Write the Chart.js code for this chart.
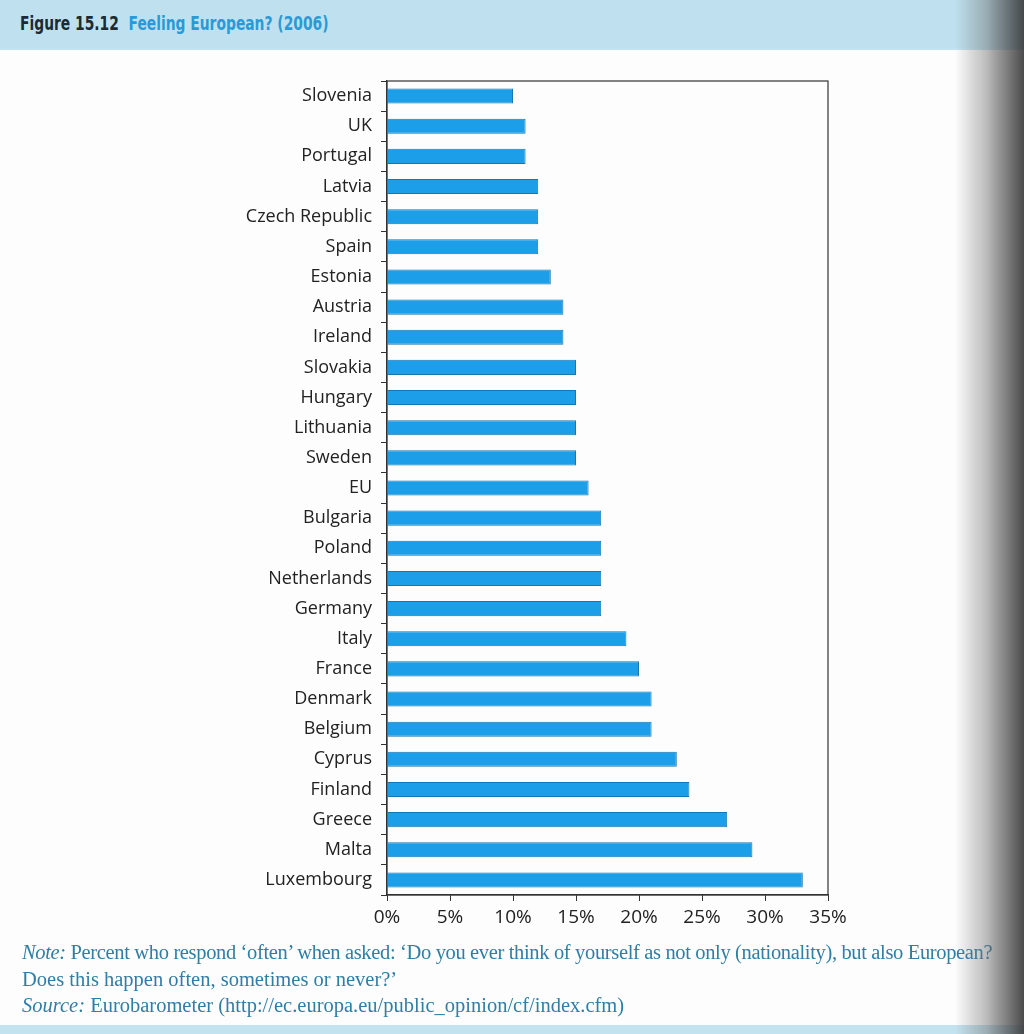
<!DOCTYPE html>
<html>
<head>
<meta charset="utf-8">
<script src="https://cdn.jsdelivr.net/npm/chart.js@4.4.1/dist/chart.umd.min.js"></script>
<style>
  html, body { margin: 0; padding: 0; }
  body { width: 1024px; height: 1034px; position: relative; overflow: hidden; background: #c4e3f0; font-family: "Open Sans", sans-serif; }
  #header { position: absolute; left: 0; top: 0; width: 1024px; height: 48px; background: #bfe1ef; }
  #header div { position: absolute; left: 20px; top: 11px; white-space: nowrap; transform: scaleX(0.77); transform-origin: 0 0;
                font-family: "DejaVu Sans Condensed", sans-serif; font-weight: bold; font-size: 20px; }
  #panel { position: absolute; left: 0; top: 50px; width: 1024px; height: 975px; background: #fdfdfd; }
  #shade { position: absolute; left: 955px; top: 0; width: 69px; height: 1034px;
           background: linear-gradient(to right, rgba(120,120,120,0) 0%, rgba(110,110,110,0.45) 45%, rgba(55,55,55,0.9) 100%); }
  #wrap { position: absolute; left: 0; top: 60px; width: 860px; height: 880px; }
  #notes { position: absolute; left: 22px; top: 939px; font-family: "Liberation Serif", serif; font-size: 20.5px; color: #2f7ea6; line-height: 26.5px; white-space: nowrap; }
  #notes .first { letter-spacing: -0.35px; }
  #notes i { font-style: italic; }
</style>
</head>
<body>
<div id="header">
  <div><span style="color:#1b2a33;">Figure 15.12</span>&nbsp;&nbsp;<span style="color:#2a9ad6;">Feeling European? (2006)</span></div>
</div>
<div id="panel"></div>
<div id="wrap"><canvas id="chart"></canvas></div>
<div id="notes">
  <div class="first"><i>Note:</i> Percent who respond ‘often’ when asked: ‘Do you ever think of yourself as not only (nationality), but also European?</div>
  <div>Does this happen often, sometimes or never?’</div>
  <div><i>Source:</i> Eurobarometer (http://ec.europa.eu/public_opinion/cf/index.cfm)</div>
</div>
<div id="shade"></div>

<script>
// ===== DATA =====
const countries = [
    "Slovenia", "UK", "Portugal", "Latvia", "Czech Republic", "Spain", "Estonia",
    "Austria", "Ireland", "Slovakia", "Hungary", "Lithuania", "Sweden", "EU",
    "Bulgaria", "Poland", "Netherlands", "Germany", "Italy", "France", "Denmark",
    "Belgium", "Cyprus", "Finland", "Greece", "Malta", "Luxembourg"
];
const oftenPct = [
    10, 11, 11, 12, 12, 12, 13,
    14, 14, 15, 15, 15, 15, 16,
    17, 17, 17, 17, 19, 20, 21,
    21, 23, 24, 27, 29, 33
];
const xTicks = [0, 5, 10, 15, 20, 25, 30, 35];

// Draws the box round the plot area (top and right sides)
const frameBox = {
    id: 'frameBox',
    afterDraw(chart) {
        const a = chart.chartArea;
        const ctx = chart.ctx;
        ctx.save();
        ctx.strokeStyle = '#333';
        ctx.lineWidth = 1.2;
        ctx.strokeRect(a.left, a.top, a.right - a.left, a.bottom - a.top);
        ctx.restore();
    }
};

const ctx = document.getElementById('chart').getContext('2d');
new Chart(ctx, {
    type: 'bar',
    data: {
        labels: countries,
        datasets: [{
            data: oftenPct,
            backgroundColor: '#1c9fe8',
            borderColor: '#1577b3',
            borderWidth: 1,
            barPercentage: 0.5,
            categoryPercentage: 1.0
        }]
    },
    options: {
        indexAxis: 'y',
        responsive: true,
        maintainAspectRatio: false,
        animation: false,
        layout: { padding: { top: 21, right: 32, left: 0, bottom: 0 } },
        scales: {
            x: {
                min: 0, max: 35,
                afterBuildTicks: (scale) => { scale.ticks = xTicks.map(v => ({ value: v })); },
                afterFit: (scale) => { scale.height = 45; },
                grid: { drawOnChartArea: false, drawTicks: true, tickLength: 6, color: '#333' },
                border: { color: '#333', width: 1.2 },
                ticks: {
                    color: '#222',
                    padding: 5,
                    maxRotation: 0,
                    font: { family: 'Open Sans', size: 19 },
                    callback: (v) => v + '%'
                }
            },
            y: {
                afterFit: (scale) => { scale.width = 387; },
                grid: { offset: true, drawOnChartArea: false, drawTicks: true, tickLength: 6, color: '#333' },
                border: { color: '#333', width: 1.2 },
                ticks: {
                    color: '#222',
                    padding: 9,
                    autoSkip: false,
                    font: { family: 'Open Sans', size: 18 }
                }
            }
        },
        plugins: { legend: { display: false }, tooltip: { enabled: false } }
    },
    plugins: [frameBox]
});
</script>
</body>
</html>
